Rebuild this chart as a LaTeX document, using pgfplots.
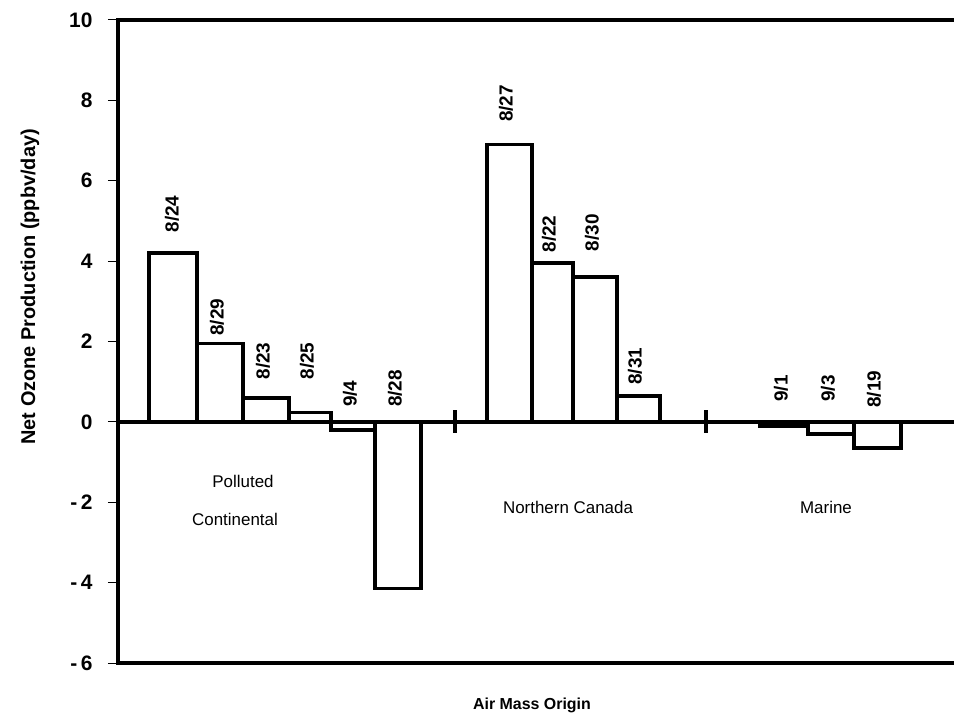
\documentclass[border=0pt]{standalone}
\usepackage{fontspec}
\setmainfont{Liberation Sans}
\usepackage{pgfplots}
\pgfplotsset{compat=1.18}
\usepackage{pgfplotstable}

% bar left edges (pixel positions) and values; last row closes the interval
\pgfplotstableread{
x y
149 4.2
197 1.95
243 0.6
289 0.23
331 -0.2
375 -4.15
421 0
}\grpA
\pgfplotstableread{
x y
487 6.9
532 3.95
573 3.6
617 0.65
660 0
}\grpB
\pgfplotstableread{
x y
760 -0.1
808 -0.3
854 -0.65
901 0
}\grpC
\pgfplotstableread[col sep=comma]{
x,ly,lab
172,4.71,8/24
217,2.14,8/29
263,1.05,8/23
307,1.05,8/25
350,0.37,9/4
395,0.37,8/28
506,7.46,8/27
549,4.21,8/22
592,4.24,8/30
635,0.92,8/31
781,0.50,9/1
828,0.50,9/3
874,0.35,8/19
}\dates
\pgfplotstableread[col sep=comma]{
x,y,lab
243,-1.49,Polluted
235,-2.44,Continental
568,-2.12,Northern Canada
826,-2.12,Marine
}\groups

\begin{document}
\begin{tikzpicture}
\path[use as bounding box] (-118bp,-55bp) rectangle (836bp,663bp);
\begin{axis}[
  at={(0,0)}, anchor=south west,
  scale only axis,
  width=842bp, height=643bp,
  xmin=118, xmax=960,
  ymin=-6, ymax=10,
  xtick=\empty,
  ytick={-6,-4,-2,0,2,4,6,8,10},
  yticklabels={-\,6,-\,4,-\,2,0,2,4,6,8,10},
  ytick pos=left,
  tick align=outside,
  major tick length=10bp,
  tick style={black, line width=1bp},
  axis line style={line width=4.5bp},
  yticklabel style={font=\fontsize{21}{24}\selectfont\bfseries, xshift=-12bp},
  ylabel={Net Ozone Production (ppbv/day)},
  ylabel style={at={(rel axis cs:-0.1045,0.585)}, anchor=center, font=\fontsize{20}{24}\selectfont\bfseries},
  xlabel={Air Mass Origin},
  xlabel style={at={(rel axis cs:0.4917,-0.0653)}, anchor=center, font=\fontsize{16}{20}\selectfont\bfseries},
]
\addplot[line width=3.5bp, black] coordinates {(118,0) (960,0)};
\addplot[ybar interval, draw=black, fill=white, line width=3.5bp] table[x=x,y=y] {\grpA};
\addplot[ybar interval, draw=black, fill=white, line width=3.5bp] table[x=x,y=y] {\grpB};
\addplot[ybar interval, draw=black, fill=white, line width=3.5bp] table[x=x,y=y] {\grpC};
\addplot[only marks, mark=|, mark size=11.5bp, mark options={line width=3.5bp, black}] coordinates {(455,0) (706,0)};
\addplot[draw=none, mark=none, nodes near coords, point meta=explicit symbolic,
  nodes near coords align=horizontal,
  every node near coord/.append style={rotate=90, anchor=west, inner sep=0pt, font=\fontsize{19}{22}\selectfont\bfseries}]
  table[x=x,y=ly,meta=lab] {\dates};
\addplot[draw=none, mark=none, nodes near coords, point meta=explicit symbolic,
  every node near coord/.append style={anchor=center, inner sep=0pt, font=\fontsize{17}{20}\selectfont}]
  table[x=x,y=y,meta=lab] {\groups};
\end{axis}
\end{tikzpicture}
\end{document}
